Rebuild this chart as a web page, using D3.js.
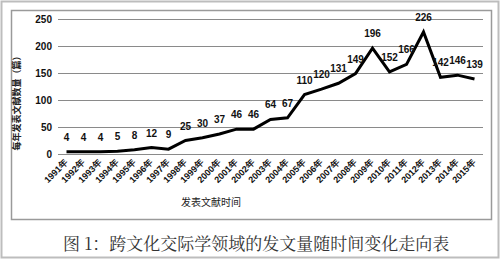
<!DOCTYPE html>
<html>
<head>
<meta charset="utf-8">
<script src="https://cdn.jsdelivr.net/npm/d3@7"></script>
<style>
  body { margin: 0; background: #fff; }
  svg { font-family: "Liberation Sans", Arial, sans-serif; }
  .grid line { stroke: #8a8a8a; stroke-width: 1px; shape-rendering: crispEdges; }
  .axis text { font-weight: bold; font-size: 10px; fill: #111; }
  .axis path, .axis line { display: none; }
  .x.axis text { font-size: 9px; }
  path.line { fill: none; stroke: #000; stroke-width: 3px; stroke-linejoin: miter; }
  .lbl { font-weight: bold; font-size: 10px; fill: #111; text-anchor: middle; }
</style>
</head>
<body>
<svg id="chart" width="500" height="259"></svg>
<script>
var years = ["1991年","1992年","1993年","1994年","1995年","1996年","1997年","1998年","1999年","2000年",
  "2001年","2002年","2003年","2004年","2005年","2006年","2007年","2008年","2009年","2010年",
  "2011年","2012年","2013年","2014年","2015年"];
var counts = [4, 4, 4, 5, 8, 12, 9, 25, 30, 37, 46, 46, 64, 67, 110, 120, 131, 149, 196, 152, 166, 226, 142, 146, 139];
var yTicks = [0, 50, 100, 150, 200, 250];
var yTitle = "每年发表文献数量（篇）";
var xTitle = "发表文献时间";
var caption = "图 1：跨文化交际学领域的发文量随时间变化走向表";

var svg = d3.select("#chart");

// outer page border and chart frame
svg.append("rect").attr("x", 1.5).attr("y", 1.5).attr("width", 497).attr("height", 256)
  .attr("fill", "none").attr("stroke", "#bdbdbd").attr("stroke-width", 2);
svg.append("rect").attr("x", 11.5).attr("y", 10.5).attr("width", 480).attr("height", 209)
  .attr("fill", "#fff").attr("stroke", "#9a9a9a").attr("stroke-width", 1.5);

var x = d3.scaleBand().domain(years).range([58, 483]);
var y = d3.scaleLinear().domain([0, 250]).range([154, 19]);

svg.append("g").attr("class", "grid")
  .selectAll("line").data(yTicks).join("line")
  .attr("x1", 58).attr("x2", 483)
  .attr("y1", function(d) { return Math.round(y(d)) + 0.5; })
  .attr("y2", function(d) { return Math.round(y(d)) + 0.5; });

svg.append("g").attr("class", "y axis")
  .attr("transform", "translate(52,0)")
  .call(d3.axisLeft(y).tickValues(yTicks).tickSize(0).tickPadding(0));

var xAxis = svg.append("g").attr("class", "x axis")
  .attr("transform", "translate(0,154)")
  .call(d3.axisBottom(x).tickSize(0).tickPadding(0));
xAxis.selectAll("text")
  .attr("text-anchor", "end")
  .attr("dy", null)
  .attr("y", 0)
  .attr("transform", "translate(2,9) rotate(-45)");

var pts = years.map(function(yr, i) { return {year: yr, value: counts[i]}; });
var cx = function(d) { return x(d.year) + x.bandwidth() / 2; };

svg.append("path").datum(pts).attr("class", "line")
  .attr("d", d3.line().x(cx).y(function(d) { return y(d.value); }));

svg.append("g").selectAll("text").data(pts).join("text")
  .attr("class", "lbl")
  .attr("x", cx)
  .attr("y", function(d) { return y(d.value) - 11; })
  .text(function(d) { return d.value; });

svg.append("text")
  .attr("transform", "translate(20,101) rotate(-90)")
  .attr("text-anchor", "middle")
  .style("font-family", "'Noto Sans CJK SC', sans-serif")
  .style("font-size", "9px")
  .style("font-weight", "bold")
  .attr("fill", "#222")
  .text(yTitle);

svg.append("text")
  .attr("x", 211).attr("y", 206)
  .attr("text-anchor", "middle")
  .style("font-family", "'Noto Sans CJK SC', sans-serif")
  .style("font-size", "10px")
  .attr("fill", "#222")
  .text(xTitle);

svg.append("text")
  .attr("x", 63).attr("y", 250)
  .style("font-family", "'Noto Serif CJK SC', 'Noto Sans CJK SC', serif")
  .style("font-size", "17px")
  .attr("fill", "#333")
  .text(caption);
</script>
</body>
</html>
